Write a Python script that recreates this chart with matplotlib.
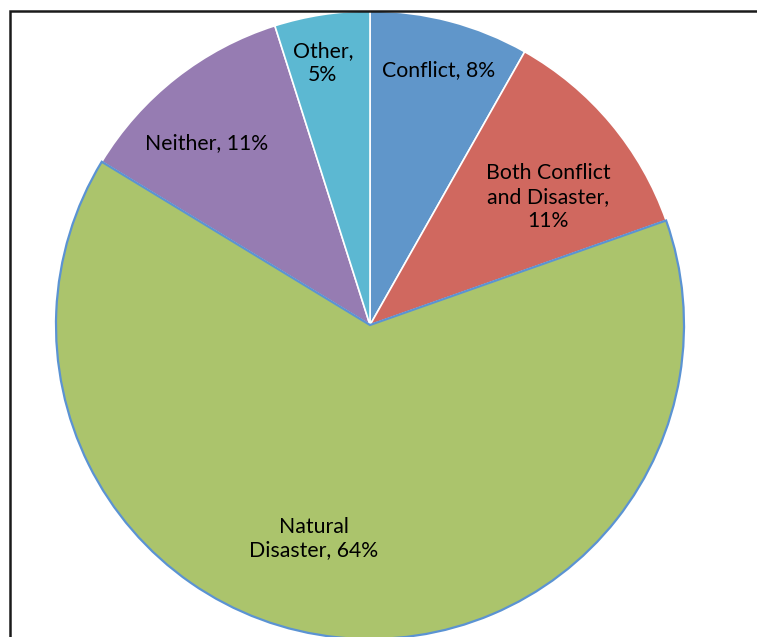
import matplotlib
matplotlib.use('Agg')
import matplotlib.pyplot as plt
from matplotlib.patches import Rectangle

categories = ['Conflict', 'Both Conflict\nand Disaster', 'Natural\nDisaster', 'Neither', 'Other']
shares = [8.2, 11.4, 64.1, 11.4, 4.9]
colors = ['#6096CA', '#D0685F', '#ABC46C', '#967CB2', '#5CB8D2']

# label text layout per slice: how the name and value are joined
label_joins = [', ', ',\n', ', ', ', ', ',\n']
# label spots as (x, y) in units of the radius, relative to the centre
label_spots = [(0.217, 0.812), (0.567, 0.408), (-0.18, -0.68), (-0.522, 0.578), (-0.15, 0.835)]

W, H = 757, 637
fig = plt.figure(figsize=(W / 100, H / 100), dpi=100)
ax = fig.add_axes([0, 0, 1, 1])

cx, cy, r = 370, H - 325, 314
wedges, _ = ax.pie(shares, colors=colors, startangle=90, counterclock=False,
                   radius=r, center=(cx, cy),
                   wedgeprops=dict(edgecolor='white', linewidth=1.2))
# the big slice gets a blue outline
wedges[2].set_edgecolor('#5B93D3')
wedges[2].set_linewidth(1.6)
wedges[2].set_zorder(3)

for name, v, sep, (lx, ly) in zip(categories, shares, label_joins, label_spots):
    ax.text(cx + lx * r, cy + ly * r, f'{name}{sep}{v:.0f}%',
            ha='center', va='center', fontsize=15.3, family='Lato',
            color='black', linespacing=1.25, zorder=5)

ax.set_xlim(0, W)
ax.set_ylim(0, H)
ax.set_aspect('equal')
ax.axis('off')

# chart area border, running off the right and bottom edges
ax.add_patch(Rectangle((9.5, -30), W + 40, H - 10.5 + 30, fill=False,
                       edgecolor='#1a1a1a', linewidth=1.8, zorder=6,
                       clip_on=False))

fig.savefig('out.png', dpi=100)
